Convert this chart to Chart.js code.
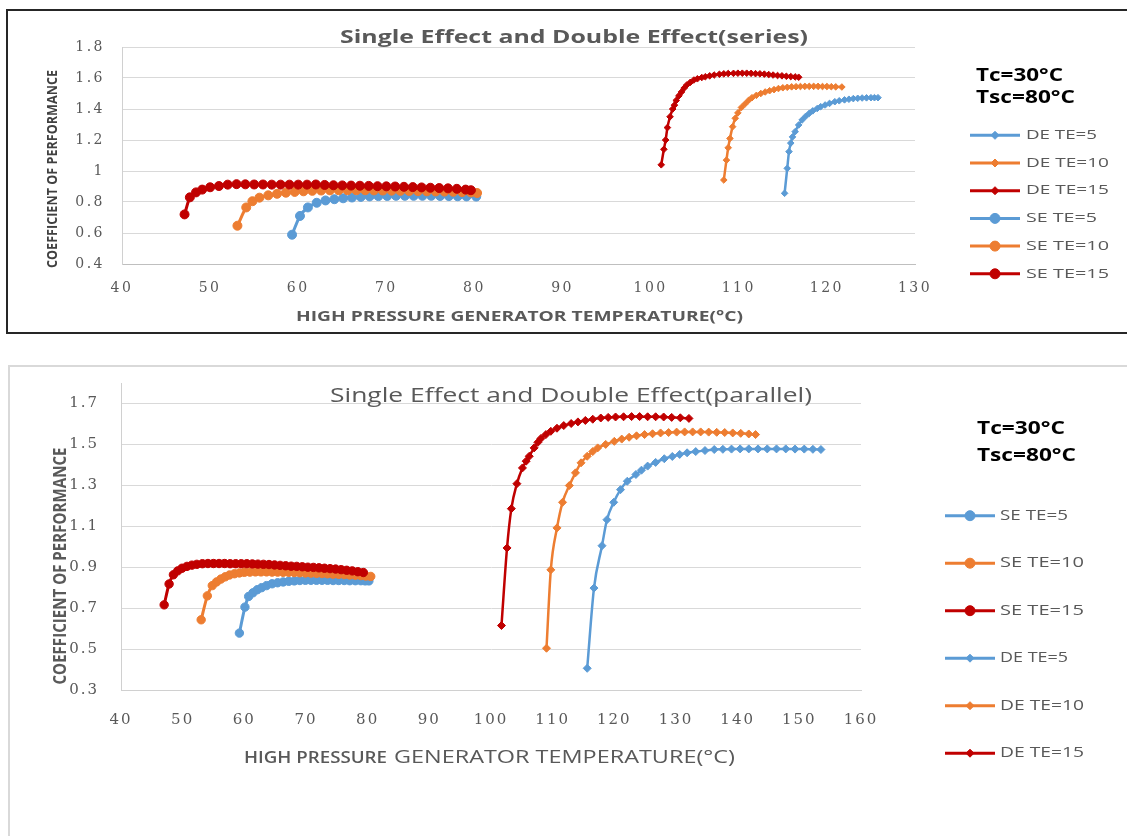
<!DOCTYPE html>
<html><head><meta charset="utf-8">
<script src="https://cdn.jsdelivr.net/npm/chart.js@4.4.1/dist/chart.umd.min.js"></script>
<style>
html,body{margin:0;padding:0;background:#fff;width:1127px;height:836px;overflow:hidden;position:relative;}
#box1{position:absolute;left:6px;top:9px;width:1140px;height:325px;border:2px solid #262626;box-sizing:border-box;}
#box2{position:absolute;left:8px;top:365px;width:1140px;height:500px;border:2px solid #d9d9d9;box-sizing:border-box;}
canvas{position:absolute;left:0;}
#c1{top:0;}
#c2{top:350px;}
</style></head>
<body>
<div id="box1"></div>
<div id="box2"></div>
<canvas id="c1" width="1127" height="345"></canvas>
<canvas id="c2" width="1127" height="486"></canvas>
<script>
// ---------- Chart 1: series ----------
const s_titleText = 'Single Effect and Double Effect(series)';
const s_xTicks = [40, 50, 60, 70, 80, 90, 100, 110, 120, 130];
const s_yTicks = [0.4, 0.6, 0.8, 1, 1.2, 1.4, 1.6, 1.8];
const s_yTickLabels = ['0.4', '0.6', '0.8', '1', '1.2', '1.4', '1.6', '1.8'];

const s_de5_x = [115.2, 115.5, 115.7, 115.9, 116.1, 116.4, 116.8, 117.2, 117.6, 118.0, 118.4, 118.9, 119.3, 119.8, 120.3, 120.9, 121.4, 122.0, 122.5, 123.0, 123.5, 124.0, 124.5, 125.0, 125.4, 125.8];
const s_de5_y = [0.856, 1.017, 1.125, 1.18, 1.22, 1.254, 1.297, 1.33, 1.353, 1.372, 1.388, 1.403, 1.415, 1.426, 1.436, 1.447, 1.453, 1.459, 1.463, 1.467, 1.469, 1.471, 1.472, 1.473, 1.473, 1.473];
const s_de10_x = [108.3, 108.6, 108.8, 109.0, 109.3, 109.6, 109.9, 110.3, 110.7, 111.1, 111.5, 112.0, 112.5, 113.0, 113.5, 114.0, 114.5, 115.0, 115.5, 116.0, 116.5, 117.0, 117.5, 118.0, 118.5, 119.0, 119.5, 120.0, 120.5, 121.0, 121.7];
const s_de10_y = [0.942, 1.07, 1.15, 1.21, 1.286, 1.34, 1.375, 1.41, 1.432, 1.455, 1.473, 1.488, 1.50, 1.51, 1.518, 1.525, 1.532, 1.537, 1.54, 1.543, 1.544, 1.545, 1.546, 1.546, 1.546, 1.546, 1.545, 1.545, 1.544, 1.543, 1.542];
const s_de15_x = [101.2, 101.5, 101.7, 101.9, 102.2, 102.5, 102.7, 102.9, 103.2, 103.5, 103.8, 104.1, 104.5, 104.9, 105.3, 105.8, 106.2, 106.7, 107.2, 107.8, 108.3, 108.8, 109.4, 109.9, 110.4, 110.9, 111.4, 111.9, 112.4, 112.9, 113.4, 113.9, 114.4, 114.9, 115.4, 115.9, 116.4, 116.8];
const s_de15_y = [1.04, 1.14, 1.20, 1.28, 1.35, 1.40, 1.425, 1.455, 1.485, 1.51, 1.535, 1.555, 1.572, 1.587, 1.595, 1.603, 1.608, 1.614, 1.619, 1.624, 1.627, 1.629, 1.63, 1.631, 1.631, 1.631, 1.63, 1.628, 1.627, 1.625, 1.622, 1.619, 1.616, 1.614, 1.611, 1.609, 1.607, 1.605];
const s_se5_x = [59.3, 60.2, 61.1, 62.1, 63.1, 64.1, 65.1, 66.1, 67.1, 68.1, 69.1, 70.1, 71.1, 72.1, 73.1, 74.1, 75.1, 76.1, 77.1, 78.1, 79.1, 80.2];
const s_se5_y = [0.589, 0.71, 0.765, 0.795, 0.81, 0.818, 0.824, 0.829, 0.833, 0.836, 0.838, 0.839, 0.84, 0.84, 0.84, 0.84, 0.84, 0.839, 0.838, 0.837, 0.836, 0.835];
const s_se10_x = [53.1, 54.1, 54.8, 55.6, 56.6, 57.6, 58.6, 59.6, 60.6, 61.6, 62.6, 63.6, 64.6, 65.6, 66.6, 67.6, 68.6, 69.6, 70.6, 71.6, 72.6, 73.6, 74.6, 75.6, 76.6, 77.6, 78.6, 79.6, 80.3];
const s_se10_y = [0.647, 0.765, 0.805, 0.828, 0.843, 0.853, 0.86, 0.865, 0.869, 0.872, 0.874, 0.875, 0.876, 0.876, 0.876, 0.876, 0.875, 0.874, 0.873, 0.872, 0.871, 0.870, 0.869, 0.868, 0.867, 0.866, 0.864, 0.862, 0.858];
const s_se15_x = [47.1, 47.7, 48.4, 49.1, 50, 51, 52, 53, 54, 55, 56, 57, 58, 59, 60, 61, 62, 63, 64, 65, 66, 67, 68, 69, 70, 71, 72, 73, 74, 75, 76, 77, 78, 79, 79.6];
const s_se15_y = [0.72, 0.83, 0.862, 0.88, 0.895, 0.903, 0.912, 0.915, 0.914, 0.913, 0.913, 0.912, 0.912, 0.912, 0.912, 0.912, 0.913, 0.91, 0.908, 0.907, 0.906, 0.905, 0.904, 0.902, 0.901, 0.9, 0.898, 0.896, 0.894, 0.892, 0.89, 0.888, 0.885, 0.88, 0.876];

// ---------- Chart 2: parallel ----------
const p_titleText = 'Single Effect and Double Effect(parallel)';
const p_xTicks = [40, 50, 60, 70, 80, 90, 100, 110, 120, 130, 140, 150, 160];
const p_yTicks = [0.3, 0.5, 0.7, 0.9, 1.1, 1.3, 1.5, 1.7];
const p_yTickLabels = ['0.3', '0.5', '0.7', '0.9', '1.1', '1.3', '1.5', '1.7'];

const p_se5_x = [59.2, 60.1, 60.7, 61.4, 62.1, 62.8, 63.6, 64.5, 65.4, 66.3, 67.2, 68.1, 69.0, 69.9, 70.8, 71.7, 72.6, 73.5, 74.4, 75.3, 76.2, 77.1, 78.0, 78.9, 79.6, 80.2];
const p_se5_y = [0.578, 0.705, 0.757, 0.775, 0.79, 0.80, 0.81, 0.819, 0.824, 0.828, 0.831, 0.833, 0.835, 0.836, 0.836, 0.836, 0.836, 0.836, 0.835, 0.835, 0.835, 0.834, 0.834, 0.834, 0.833, 0.833];
const p_se10_x = [53.0, 54.0, 54.8, 55.5, 56.2, 56.9, 57.6, 58.4, 59.2, 60.0, 60.9, 61.8, 62.7, 63.6, 64.5, 65.4, 66.3, 67.2, 68.1, 69.0, 69.9, 70.8, 71.7, 72.6, 73.5, 74.4, 75.3, 76.2, 77.1, 78.0, 78.9, 79.7, 80.5];
const p_se10_y = [0.643, 0.76, 0.81, 0.828, 0.842, 0.853, 0.862, 0.868, 0.872, 0.875, 0.876, 0.877, 0.877, 0.877, 0.876, 0.876, 0.875, 0.875, 0.874, 0.873, 0.872, 0.871, 0.87, 0.869, 0.868, 0.866, 0.865, 0.864, 0.862, 0.861, 0.859, 0.857, 0.855];
const p_se15_x = [47.0, 47.8, 48.5, 49.2, 49.9, 50.7, 51.5, 52.3, 53.2, 54.1, 55.0, 55.9, 56.8, 57.7, 58.6, 59.5, 60.4, 61.3, 62.2, 63.1, 64.0, 64.9, 65.8, 66.7, 67.6, 68.5, 69.4, 70.3, 71.2, 72.1, 73.0, 73.9, 74.8, 75.7, 76.6, 77.5, 78.4, 79.3];
const p_se15_y = [0.716, 0.818, 0.863, 0.882, 0.895, 0.904, 0.91, 0.914, 0.917, 0.918, 0.918, 0.918, 0.918, 0.917, 0.917, 0.917, 0.917, 0.916, 0.915, 0.914, 0.913, 0.911, 0.909, 0.907, 0.905, 0.904, 0.902, 0.9, 0.899, 0.897, 0.895, 0.893, 0.891, 0.888, 0.885, 0.882, 0.878, 0.874];
const p_de5_x = [115.6, 116.7, 118.0, 118.8, 119.9, 121.0, 122.1, 123.5, 124.4, 125.4, 126.7, 128.1, 129.4, 130.6, 131.8, 133.2, 134.7, 136.2, 137.6, 139.0, 140.4, 141.8, 143.3, 144.8, 146.3, 147.8, 149.3, 150.8, 152.2, 153.5];
const p_de5_y = [0.406, 0.798, 1.005, 1.132, 1.217, 1.279, 1.32, 1.353, 1.374, 1.394, 1.412, 1.43, 1.441, 1.451, 1.459, 1.465, 1.47, 1.475, 1.476, 1.477, 1.478, 1.478, 1.478, 1.478, 1.478, 1.478, 1.477, 1.477, 1.476, 1.475];
const p_de10_x = [109.0, 109.7, 110.7, 111.6, 112.7, 113.7, 114.6, 115.6, 116.5, 117.3, 118.6, 120.0, 121.2, 122.4, 123.6, 124.9, 126.2, 127.5, 128.8, 130.1, 131.4, 132.7, 134.0, 135.3, 136.6, 137.9, 139.2, 140.5, 141.8, 142.9];
const p_de10_y = [0.504, 0.887, 1.092, 1.217, 1.299, 1.361, 1.41, 1.442, 1.465, 1.483, 1.50, 1.515, 1.526, 1.535, 1.542, 1.548, 1.552, 1.556, 1.558, 1.56, 1.561, 1.561, 1.561, 1.56, 1.559, 1.558, 1.556, 1.554, 1.551, 1.548];
const p_de15_x = [101.7, 102.6, 103.3, 104.2, 105.1, 105.7, 106.2, 107.0, 107.6, 108.1, 108.9, 109.7, 110.7, 111.8, 113.0, 114.1, 115.3, 116.5, 117.8, 119.0, 120.2, 121.5, 122.8, 124.1, 125.4, 126.7, 128.0, 129.3, 130.7, 132.1];
const p_de15_y = [0.615, 0.994, 1.186, 1.308, 1.385, 1.418, 1.442, 1.483, 1.51, 1.529, 1.548, 1.564, 1.579, 1.592, 1.602, 1.61, 1.617, 1.623, 1.629, 1.632, 1.634, 1.635, 1.636, 1.636, 1.635, 1.635, 1.634, 1.632, 1.63, 1.627];

const condLines = ['Tc=30°C', 'Tsc=80°C'];
const xTitle = 'HIGH PRESSURE GENERATOR TEMPERATURE(°C)';
const xTitleA = 'HIGH PRESSURE';
const xTitleB = 'GENERATOR TEMPERATURE(°C)';
const yTitle = 'COEFFICIENT OF PERFORMANCE';

const BLUE = '#5B9BD5', ORANGE = '#ED7D31', RED = '#C00000';
const GRAY = '#595959';

function pts(xs, ys) { return xs.map((x, i) => ({x: x, y: ys[i]})); }

function ds(label, xs, ys, color, kind, order, seR, deR) {
  const se = kind === 'SE';
  return {
    label: label, data: pts(xs, ys), showLine: true,
    borderColor: color, backgroundColor: color,
    borderWidth: se ? 3 : 2.5,
    pointStyle: se ? 'circle' : 'rectRot',
    pointRadius: se ? seR : deR,
    pointBorderWidth: 1, pointBorderColor: color, pointBackgroundColor: color,
    cubicInterpolationMode: 'monotone',
    order: order, _kind: kind
  };
}

function fitText(ctx, text, x, y, w, font, color, rotate, center) {
  ctx.save();
  ctx.letterSpacing = '0px';
  ctx.font = font; ctx.fillStyle = color;
  ctx.textBaseline = 'middle'; ctx.textAlign = 'left';
  const m = ctx.measureText(text).width;
  const s = w / m;
  ctx.translate(x, y);
  if (rotate) ctx.rotate(-Math.PI / 2);
  ctx.scale(s, 1);
  ctx.fillText(text, center ? -m / 2 : 0, 0);
  ctx.restore();
}

function makeDecor(cfg) {
  return {
    id: 'decor',
    beforeDraw(chart) { chart.ctx.letterSpacing = cfg.tickSpacing; },
    beforeDatasetsDraw(chart) { chart.ctx.letterSpacing = '0px'; },
    afterDraw(chart) {
      const ctx = chart.ctx;
      ctx.letterSpacing = '0px';
      cfg.texts(ctx);
      const L = cfg.legend;
      chart.data.datasets.forEach((d, i) => {
        const y = L.y0 + i * L.dy;
        ctx.save();
        ctx.strokeStyle = d.borderColor; ctx.lineWidth = 3;
        ctx.beginPath(); ctx.moveTo(L.x0, y); ctx.lineTo(L.x1, y); ctx.stroke();
        ctx.fillStyle = d.borderColor; ctx.lineWidth = 1;
        Chart.helpers.drawPoint(ctx, {
          pointStyle: d.pointStyle, radius: d._kind === 'SE' ? 5 : 4, rotation: 0, borderWidth: 1
        }, (L.x0 + L.x1) / 2, y);
        ctx.restore();
        const w = L.widths[d.label.length] || 70;
        fitText(ctx, d.label, L.tx, y, w, L.font, GRAY, false, false);
      });
    }
  };
}

function makeChart(id, datasets, o) {
  const c = document.getElementById(id);
  return new Chart(c, {
    type: 'scatter',
    data: {datasets: datasets},
    options: {
      responsive: false, animation: false, devicePixelRatio: 1,
      layout: {padding: o.padding},
      plugins: {legend: {display: false}, tooltip: {enabled: false}, title: {display: false}},
      scales: {
        x: {
          type: 'linear', min: o.xTicks[0], max: o.xTicks[o.xTicks.length - 1],
          afterFit(s) { s.height = o.xHeight; },
          afterBuildTicks(s) { s.ticks = o.xTicks.map(v => ({value: v})); },
          grid: {display: false, drawTicks: false},
          border: {display: true, color: o.xBorder, width: 1},
          ticks: {padding: o.xPad, color: GRAY, font: {family: 'DejaVu Serif', size: o.tickSize},
                  maxRotation: 0, autoSkip: false, callback: (v, i) => String(o.xTicks[i])}
        },
        y: {
          type: 'linear', min: o.yMin, max: o.yMax,
          afterFit(s) { s.width = o.yWidth; },
          afterBuildTicks(s) { s.ticks = o.yTicks.map(v => ({value: v})); },
          grid: {color: '#d9d9d9', lineWidth: 1, drawTicks: false},
          border: {display: true, color: '#d0d0d0', width: 1},
          ticks: {padding: o.yPad, color: GRAY, font: {family: 'DejaVu Serif', size: o.tickSize},
                  autoSkip: false, callback: (v, i) => o.yTickLabels[i]}
        }
      }
    },
    plugins: [makeDecor(o.decor)]
  });
}

// Top chart
makeChart('c1', [
  ds('DE TE=5', s_de5_x, s_de5_y, BLUE, 'DE', 6, 4.5, 3.3),
  ds('DE TE=10', s_de10_x, s_de10_y, ORANGE, 'DE', 5, 4.5, 3.3),
  ds('DE TE=15', s_de15_x, s_de15_y, RED, 'DE', 4, 4.5, 3.3),
  ds('SE TE=5', s_se5_x, s_se5_y, BLUE, 'SE', 3, 4.5, 3.3),
  ds('SE TE=10', s_se10_x, s_se10_y, ORANGE, 'SE', 2, 4.5, 3.3),
  ds('SE TE=15', s_se15_x, s_se15_y, RED, 'SE', 1, 4.5, 3.3)
], {
  padding: {left: 0, right: 212, top: 47, bottom: 0},
  xTicks: s_xTicks, yTicks: s_yTicks, yTickLabels: s_yTickLabels,
  yMin: 0.4, yMax: 1.8, xHeight: 81, yWidth: 122, xPad: 16, yPad: 17, tickSize: 14,
  xBorder: '#bfbfbf',
  decor: {
    tickSpacing: '2.5px',
    texts(ctx) {
      fitText(ctx, s_titleText, 340, 38, 468, 'bold 17px "Open Sans"', GRAY, false, false);
      fitText(ctx, yTitle, 53, 169, 198, 'bold 15px "Open Sans"', '#404040', true, true);
      fitText(ctx, xTitle, 296, 317, 447, 'bold 14px "Open Sans"', GRAY, false, false);
      fitText(ctx, condLines[0], 976, 76, 87, 'bold 17px "Open Sans"', '#000', false, false);
      fitText(ctx, condLines[1], 976, 98, 99, 'bold 17px "Open Sans"', '#000', false, false);
    },
    legend: {x0: 970, x1: 1020, tx: 1026, y0: 135.3, dy: 27.7, font: '13px "Open Sans"',
             widths: {7: 71, 8: 83}}
  }
});

// Bottom chart
makeChart('c2', [
  ds('SE TE=5', p_se5_x, p_se5_y, BLUE, 'SE', 3, 4.2, 4),
  ds('SE TE=10', p_se10_x, p_se10_y, ORANGE, 'SE', 2, 4.2, 4),
  ds('SE TE=15', p_se15_x, p_se15_y, RED, 'SE', 1, 4.2, 4),
  ds('DE TE=5', p_de5_x, p_de5_y, BLUE, 'DE', 6, 4.2, 4),
  ds('DE TE=10', p_de10_x, p_de10_y, ORANGE, 'DE', 5, 4.2, 4),
  ds('DE TE=15', p_de15_x, p_de15_y, RED, 'DE', 4, 4.2, 4)
], {
  padding: {left: 0, right: 266, top: 33, bottom: 0},
  xTicks: p_xTicks, yTicks: p_yTicks, yTickLabels: p_yTickLabels,
  yMin: 0.3, yMax: 1.8, xHeight: 146, yWidth: 121, xPad: 21, yPad: 22, tickSize: 15,
  xBorder: '#d0d0d0',
  decor: {
    tickSpacing: '2px',
    texts(ctx) {
      fitText(ctx, p_titleText, 330, 46, 482, '20px "Open Sans"', GRAY, false, false);
      fitText(ctx, yTitle, 61, 216, 237, 'bold 17px "Open Sans"', GRAY, true, true);
      fitText(ctx, xTitleA, 244, 408, 143, '600 17px "Open Sans"', GRAY, false, false);
      fitText(ctx, xTitleB, 394, 408, 341, '19px "Open Sans"', GRAY, false, false);
      fitText(ctx, condLines[0], 977, 79, 88, 'bold 17px "Open Sans"', '#000', false, false);
      fitText(ctx, condLines[1], 977, 106, 99, 'bold 17px "Open Sans"', '#000', false, false);
    },
    legend: {x0: 945, x1: 995, tx: 1000, y0: 165.7, dy: 47.5, font: '14px "Open Sans"',
             widths: {7: 68, 8: 84}}
  }
});
</script>
</body></html>
